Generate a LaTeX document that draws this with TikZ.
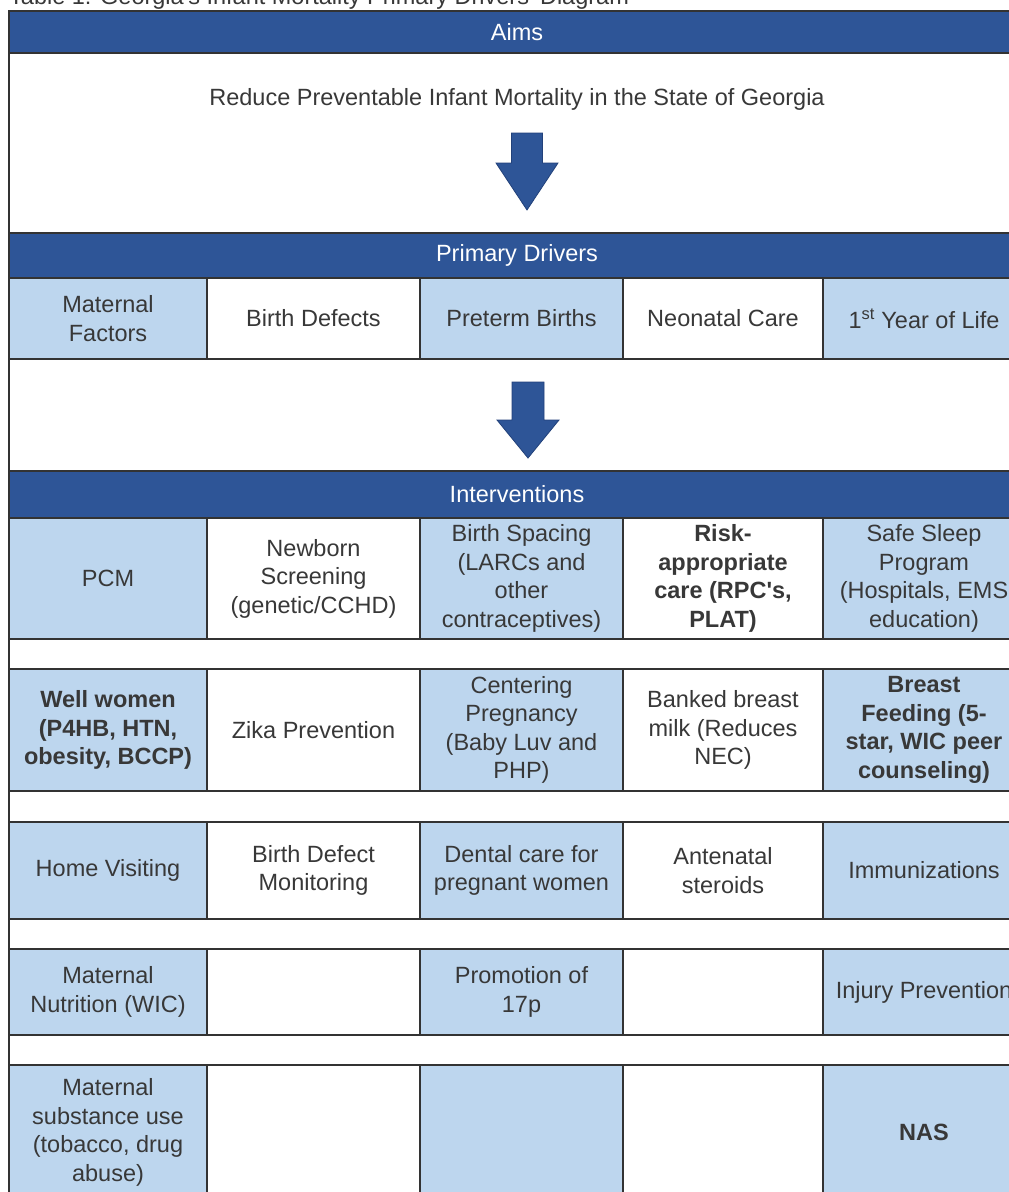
\documentclass[tikz,border=0pt]{standalone}
\usepackage{fontspec}
\setmainfont{Liberation Sans}
\usepackage{tikz}
\usetikzlibrary{positioning}
\definecolor{navy}{HTML}{2E5597}
\definecolor{pale}{HTML}{BDD6EE}
\definecolor{rule}{HTML}{333333}
\definecolor{ink}{HTML}{383838}
\definecolor{arrowedge}{HTML}{22417A}
\newcommand\cellfont{\fontsize{23.5}{28.5}\selectfont}
\newcommand\tablewidth{1016pt}
\tikzset{
    cell/.style={draw=rule, line width=2pt, inner sep=0pt, outer sep=0pt, align=center, text=ink, font=\cellfont, anchor=north west},
    bluecell/.style={cell, fill=pale},
    whitecell/.style={cell, fill=white},
    headbar/.style={cell, fill=navy, text=white, minimum width=\tablewidth},
    gapbar/.style={cell, fill=white, minimum width=\tablewidth},
    colA/.style={minimum width=198pt},
    colB/.style={minimum width=213pt},
    colC/.style={minimum width=203pt},
    colD/.style={minimum width=200pt},
    colE/.style={minimum width=202pt},
    bigarrow/.style={fill=navy, draw=arrowedge, line width=0.8pt},
}
\begin{document}
\begin{tikzpicture}[x=1pt,y=-1pt]
\useasboundingbox (0,0) rectangle (1009,1192);
\clip (0,0) rectangle (1009,1192);
\fill[white] (0,0) rectangle (1009,1192);

\node[anchor=base west, inner sep=0pt, font=\cellfont, text=ink] (title) at (9,4)
    {Table 1: Georgia\textquotesingle s Infant Mortality Primary Drivers\textquotesingle\ Diagram};

% aims
\node[headbar, minimum height=42pt] (aims) at (9,11) {Aims};
\node[gapbar, minimum height=180pt] (goal) at (aims.south west) {};
\node[text=ink, font=\cellfont, inner sep=0pt] (goaltext) at (517,99)
    {Reduce Preventable Infant Mortality in the State of Georgia};
\filldraw[bigarrow] (511.5,133) -- (542.5,133) -- (542.5,163) -- (558,163)
    -- (527,210) -- (496,163) -- (511.5,163) -- cycle;

% primary drivers
\node[headbar, minimum height=45pt] (prim) at (goal.south west) {Primary Drivers};
\begin{scope}[every node/.append style={minimum height=81pt}]
    \node[bluecell, colA] (pa) at (prim.south west) {Maternal\\Factors};
    \node[whitecell, colB, right=0pt of pa] (pb) {Birth Defects};
    \node[bluecell, colC, right=0pt of pb] (pc) {Preterm Births};
    \node[whitecell, colD, right=0pt of pc] (pd) {Neonatal Care};
    \node[bluecell, colE, right=0pt of pd] (pe) {1\textsuperscript{st} Year of Life};
\end{scope}
\node[gapbar, minimum height=112pt] (space) at (pa.south west) {};
\filldraw[bigarrow] (512,382) -- (544,382) -- (544,420) -- (559,420)
    -- (528,458) -- (497,420) -- (512,420) -- cycle;

% interventions
\node[headbar, minimum height=47pt] (interv) at (space.south west) {Interventions};
\begin{scope}[every node/.append style={minimum height=121pt}]
    \node[bluecell, colA] (ia) at (interv.south west) {PCM};
    \node[whitecell, colB, right=0pt of ia] (ib) {Newborn\\Screening\\(genetic/CCHD)};
    \node[bluecell, colC, right=0pt of ib] (ic) {Birth Spacing\\(LARCs and\\other\\contraceptives)};
    \node[whitecell, colD, right=0pt of ic, font=\cellfont\bfseries] (id) {Risk-\\appropriate\\care (RPC\textquotesingle s,\\PLAT)};
    \node[bluecell, colE, right=0pt of id] (ie) {Safe Sleep\\Program\\(Hospitals, EMS\\education)};
\end{scope}
\node[gapbar, minimum height=30pt] (gapa) at (ia.south west) {};
\begin{scope}[every node/.append style={minimum height=122pt}]
    \node[bluecell, colA, font=\cellfont\bfseries] (ja) at (gapa.south west) {Well women\\(P4HB, HTN,\\obesity, BCCP)};
    \node[whitecell, colB, right=0pt of ja] (jb) {Zika Prevention};
    \node[bluecell, colC, right=0pt of jb] (jc) {Centering\\Pregnancy\\(Baby Luv and\\PHP)};
    \node[whitecell, colD, right=0pt of jc] (jd) {Banked breast\\milk (Reduces\\NEC)};
    \node[bluecell, colE, right=0pt of jd, font=\cellfont\bfseries] (je) {Breast\\Feeding (5-\\star, WIC peer\\counseling)};
\end{scope}
\node[gapbar, minimum height=31pt] (gapb) at (ja.south west) {};
\begin{scope}[every node/.append style={minimum height=97pt}]
    \node[bluecell, colA] (ka) at (gapb.south west) {Home Visiting};
    \node[whitecell, colB, right=0pt of ka] (kb) {Birth Defect\\Monitoring};
    \node[bluecell, colC, right=0pt of kb] (kc) {Dental care for\\pregnant women};
    \node[whitecell, colD, right=0pt of kc] (kd) {Antenatal\\steroids};
    \node[bluecell, colE, right=0pt of kd] (ke) {Immunizations};
\end{scope}
\node[gapbar, minimum height=30pt] (gapc) at (ka.south west) {};
\begin{scope}[every node/.append style={minimum height=86pt}]
    \node[bluecell, colA] (la) at (gapc.south west) {Maternal\\Nutrition (WIC)};
    \node[whitecell, colB, right=0pt of la] (lb) {};
    \node[bluecell, colC, right=0pt of lb] (lc) {Promotion of\\17p};
    \node[whitecell, colD, right=0pt of lc] (ld) {};
    \node[bluecell, colE, right=0pt of ld] (le) {Injury Prevention};
\end{scope}
\node[gapbar, minimum height=30pt] (gapd) at (la.south west) {};
\begin{scope}[every node/.append style={minimum height=135pt}]
    \node[bluecell, colA] (ma) at (gapd.south west) {Maternal\\substance use\\(tobacco, drug\\abuse)};
    \node[whitecell, colB, right=0pt of ma] (mb) {};
    \node[bluecell, colC, right=0pt of mb] (mc) {};
    \node[whitecell, colD, right=0pt of mc] (md) {};
    \node[bluecell, colE, right=0pt of md, font=\cellfont\bfseries] (me) {NAS};
\end{scope}
\end{tikzpicture}
\end{document}
